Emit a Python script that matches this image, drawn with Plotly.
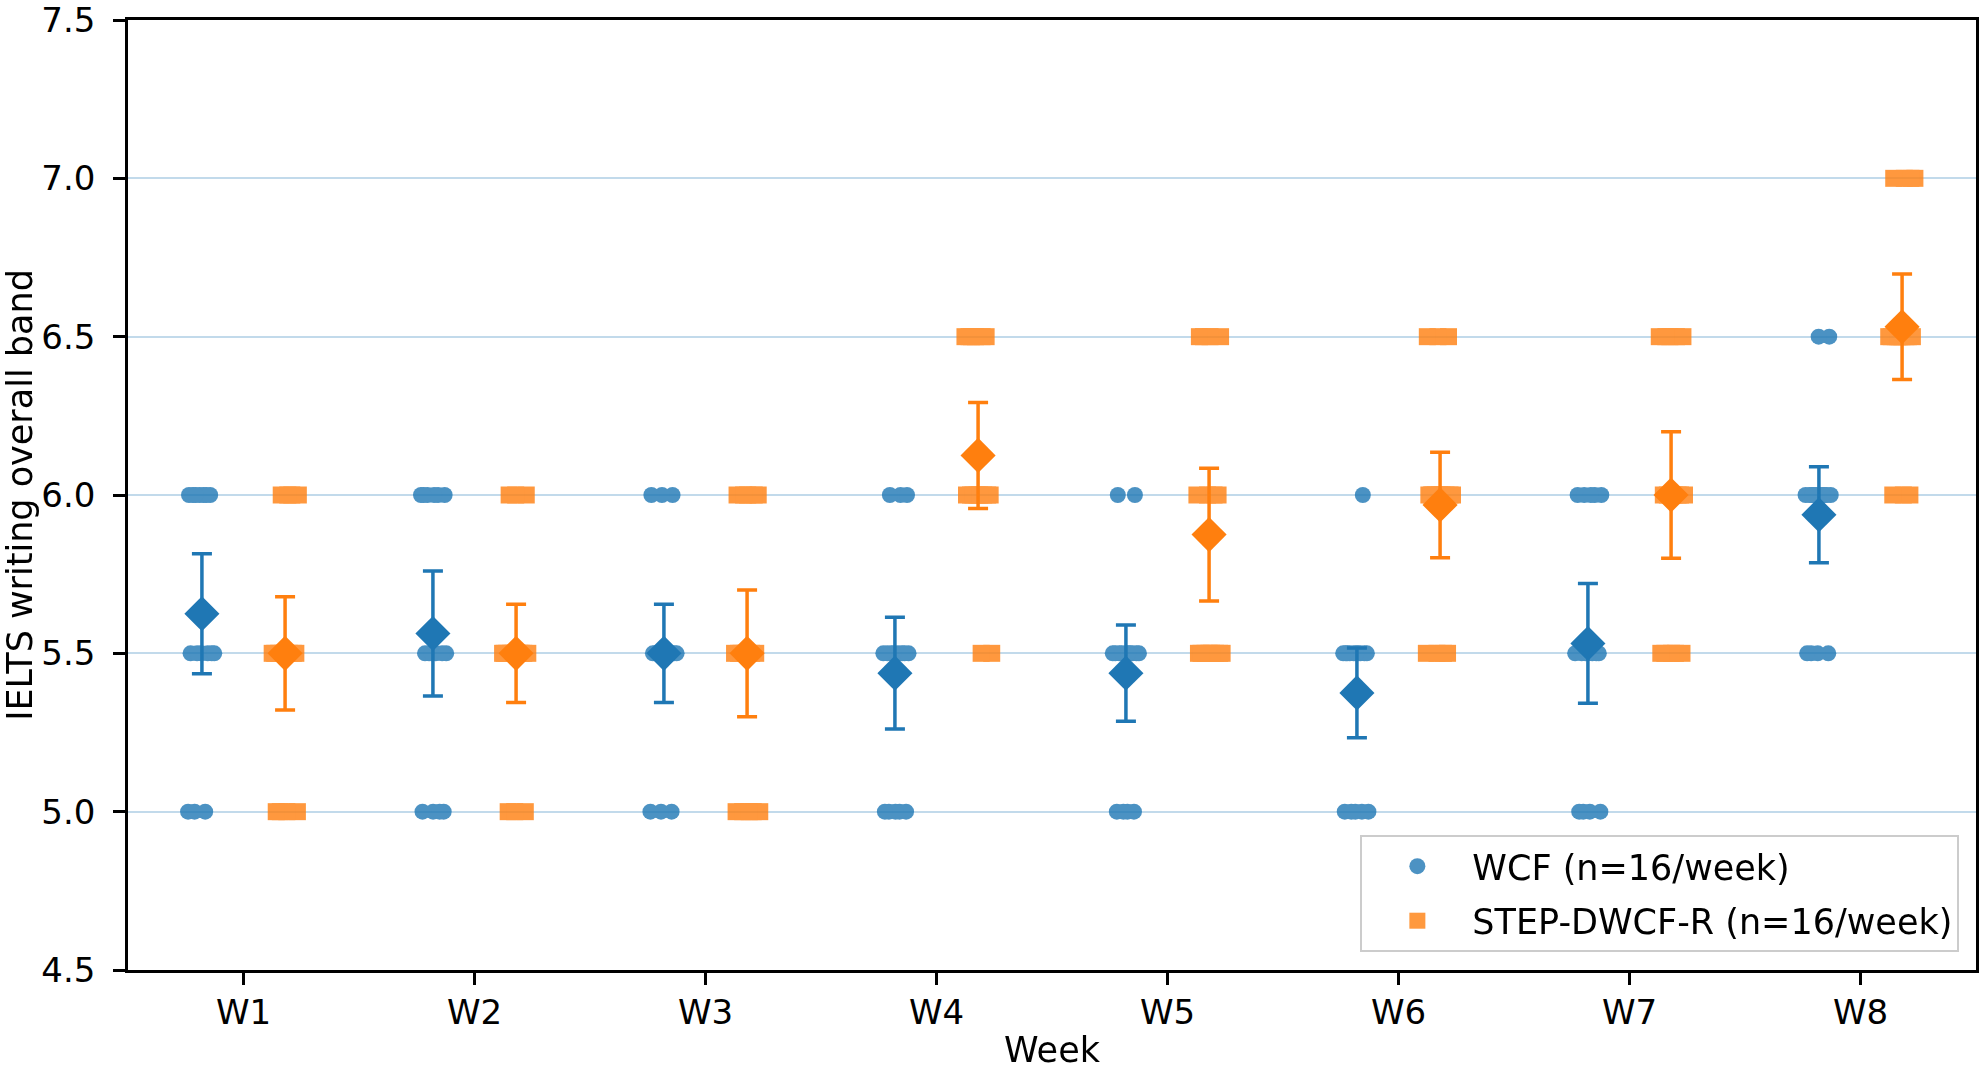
import numpy as np
import plotly.graph_objects as go

# weekly IELTS writing bands, 16 learners per group and week
weeks = ["W1", "W2", "W3", "W4", "W5", "W6", "W7", "W8"]

wcf_scores = [
    [5.0, 5.0, 5.0, 5.5, 5.5, 5.5, 5.5, 5.5, 5.5, 6.0, 6.0, 6.0, 6.0, 6.0, 6.0, 6.0],
    [5.0, 5.0, 5.0, 5.0, 5.5, 5.5, 5.5, 5.5, 5.5, 5.5, 6.0, 6.0, 6.0, 6.0, 6.0, 6.0],
    [5.0, 5.0, 5.0, 5.5, 5.5, 5.5, 5.5, 5.5, 5.5, 5.5, 5.5, 5.5, 5.5, 6.0, 6.0, 6.0],
    [5.0, 5.0, 5.0, 5.0, 5.0, 5.5, 5.5, 5.5, 5.5, 5.5, 5.5, 5.5, 5.5, 6.0, 6.0, 6.0],
    [5.0, 5.0, 5.0, 5.0, 5.5, 5.5, 5.5, 5.5, 5.5, 5.5, 5.5, 5.5, 5.5, 5.5, 6.0, 6.0],
    [5.0, 5.0, 5.0, 5.0, 5.0, 5.5, 5.5, 5.5, 5.5, 5.5, 5.5, 5.5, 5.5, 5.5, 5.5, 6.0],
    [5.0, 5.0, 5.0, 5.0, 5.5, 5.5, 5.5, 5.5, 5.5, 5.5, 5.5, 6.0, 6.0, 6.0, 6.0, 6.0],
    [5.5, 5.5, 5.5, 5.5, 6.0, 6.0, 6.0, 6.0, 6.0, 6.0, 6.0, 6.0, 6.0, 6.0, 6.5, 6.5],
]

step_scores = [
    [5.0, 5.0, 5.0, 5.0, 5.5, 5.5, 5.5, 5.5, 5.5, 5.5, 5.5, 5.5, 6.0, 6.0, 6.0, 6.0],
    [5.0, 5.0, 5.0, 5.5, 5.5, 5.5, 5.5, 5.5, 5.5, 5.5, 5.5, 5.5, 5.5, 6.0, 6.0, 6.0],
    [5.0, 5.0, 5.0, 5.0, 5.0, 5.5, 5.5, 5.5, 5.5, 5.5, 5.5, 6.0, 6.0, 6.0, 6.0, 6.0],
    [5.5, 5.5, 6.0, 6.0, 6.0, 6.0, 6.0, 6.0, 6.0, 6.0, 6.5, 6.5, 6.5, 6.5, 6.5, 6.5],
    [5.5, 5.5, 5.5, 5.5, 5.5, 5.5, 5.5, 5.5, 6.0, 6.0, 6.0, 6.0, 6.5, 6.5, 6.5, 6.5],
    [5.5, 5.5, 5.5, 5.5, 6.0, 6.0, 6.0, 6.0, 6.0, 6.0, 6.0, 6.0, 6.0, 6.5, 6.5, 6.5],
    [5.5, 5.5, 5.5, 5.5, 5.5, 6.0, 6.0, 6.0, 6.0, 6.0, 6.0, 6.5, 6.5, 6.5, 6.5, 6.5],
    [6.0, 6.0, 6.0, 6.5, 6.5, 6.5, 6.5, 6.5, 6.5, 6.5, 6.5, 6.5, 7.0, 7.0, 7.0, 7.0],
]

BLUE = "#1f77b4"
ORANGE = "#ff7f0e"
FONT = "DejaVu Sans"
OFFSET = 0.18
JITTER = 0.06


def jitter_x(week_idx, center, n, seed):
    # spread points sideways with a fixed low-discrepancy sequence
    k = np.arange(n) + week_idx * n + seed
    frac = (k * 0.6180339887) % 1.0
    return center + (frac - 0.5) * 2 * JITTER


def mean_ci(scores):
    a = np.array(scores)
    m = a.mean()
    half = 1.96 * a.std(ddof=1) / np.sqrt(len(a))
    return m, half


fig = go.Figure()

groups = [
    ("WCF (n=16/week)", wcf_scores, -OFFSET, BLUE, "circle", 16, 0),
    ("STEP-DWCF-R (n=16/week)", step_scores, OFFSET, ORANGE, "square", 17, 7),
]

for name, scores, off, color, symbol, size, seed in groups:
    xs, ys = [], []
    for i, s in enumerate(scores):
        xs.extend(jitter_x(i, i + 1 + off, len(s), seed))
        ys.extend(s)
    fig.add_trace(go.Scatter(
        x=xs, y=ys, mode="markers", name=name, legendgroup=name,
        marker=dict(symbol=symbol, size=size, color=color, line=dict(width=0)),
        opacity=0.8,
    ))

for name, scores, off, color, symbol, size, seed in groups:
    means, halves = zip(*[mean_ci(s) for s in scores])
    fig.add_trace(go.Scatter(
        x=[i + 1 + off for i in range(len(scores))], y=list(means),
        mode="markers", showlegend=False,
        marker=dict(symbol="diamond", size=27, color=color, line=dict(width=0)),
        error_y=dict(type="data", array=list(halves), color=color,
                     thickness=3.5, width=10),
    ))

fig.update_layout(
    width=1984, height=1072,
    paper_bgcolor="white", plot_bgcolor="white",
    margin=dict(l=128, r=8, t=20, b=102),
    font=dict(family=FONT, size=34, color="black"),
    legend=dict(
        x=0.991, y=0.019, xanchor="right", yanchor="bottom",
        bgcolor="rgba(255,255,255,0.8)", bordercolor="#cccccc", borderwidth=2,
        font=dict(family=FONT, size=35), itemwidth=100, tracegroupgap=6,
    ),
)

fig.update_xaxes(
    range=[0.5, 8.5], tickvals=list(range(1, len(weeks) + 1)), ticktext=weeks,
    showgrid=False, zeroline=False, automargin=False,
    showline=True, linecolor="black", linewidth=2.5, mirror=True,
    ticks="outside", ticklen=12, tickwidth=2.5, tickcolor="black",
    ticklabelstandoff=-2,
    title=dict(text="Week", font=dict(size=35), standoff=7),
)
fig.update_yaxes(
    range=[4.5, 7.5], dtick=0.5, tickformat=".1f",
    showgrid=True, gridcolor="rgba(31,119,180,0.27)", gridwidth=2,
    zeroline=False, automargin=False, ticklabeloverflow="allow",
    showline=True, linecolor="black", linewidth=2.5, mirror=True,
    ticks="outside", ticklen=12, tickwidth=2.5, tickcolor="black",
    ticklabelstandoff=11,
    title=dict(text="IELTS writing overall band", font=dict(size=35), standoff=8),
)

# the page body has a default 8px margin; drop it so the figure sits at 0,0
fig.write_html("out.html", config={"displayModeBar": False},
               post_script="document.body.style.margin='0px';")
